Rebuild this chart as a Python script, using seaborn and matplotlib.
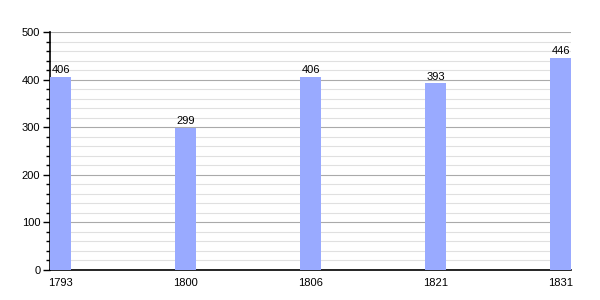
import matplotlib
matplotlib.use("Agg")
import matplotlib.pyplot as plt
import seaborn as sns
import pandas as pd
from matplotlib.ticker import MultipleLocator

years = ["1793", "1800", "1806", "1821", "1831"]
population = [406, 299, 406, 393, 446]

sns.set_style("white")
plt.rcParams['font.family'] = ['Liberation Sans', 'DejaVu Sans']

df = pd.DataFrame({"year": years, "pop": population})

fig = plt.figure(figsize=(6, 3), dpi=100)
ax = fig.add_axes([50/600, 30/300, 521/600, 238/300])

w = 0.168
sns.barplot(data=df, x="year", y="pop", color="#99aaff", saturation=1, width=w,
            edgecolor="none", linewidth=0, ax=ax, zorder=3)

ax.set_xlim(-w/2, len(years) - 1 + w/2)
ax.set_ylim(0, 500)
ax.yaxis.set_major_locator(MultipleLocator(100))
ax.yaxis.set_minor_locator(MultipleLocator(20))
ax.grid(which="major", axis="y", color="#aaaaaa", linewidth=0.8, zorder=0)
ax.grid(which="minor", axis="y", color="#e0e0e0", linewidth=0.8, zorder=0)
ax.set_axisbelow(True)

for s in ["top", "right"]:
    ax.spines[s].set_visible(False)
for s in ["left", "bottom"]:
    ax.spines[s].set_color("black")
    ax.spines[s].set_linewidth(1.2)

ax.tick_params(axis="y", which="major", left=True, length=5, width=1, color="black", labelsize=8, pad=2, labelcolor="black")
ax.tick_params(axis="y", which="minor", left=True, length=3, width=1, color="black")
ax.tick_params(axis="x", bottom=False, labelsize=8, pad=2, labelcolor="black")
ax.set_xlabel("")
ax.set_ylabel("")

for i, v in enumerate(population):
    ax.text(i, v + 3, str(v), ha="center", va="bottom", fontsize=8, color="black")

fig.savefig("out.png", dpi=100)
